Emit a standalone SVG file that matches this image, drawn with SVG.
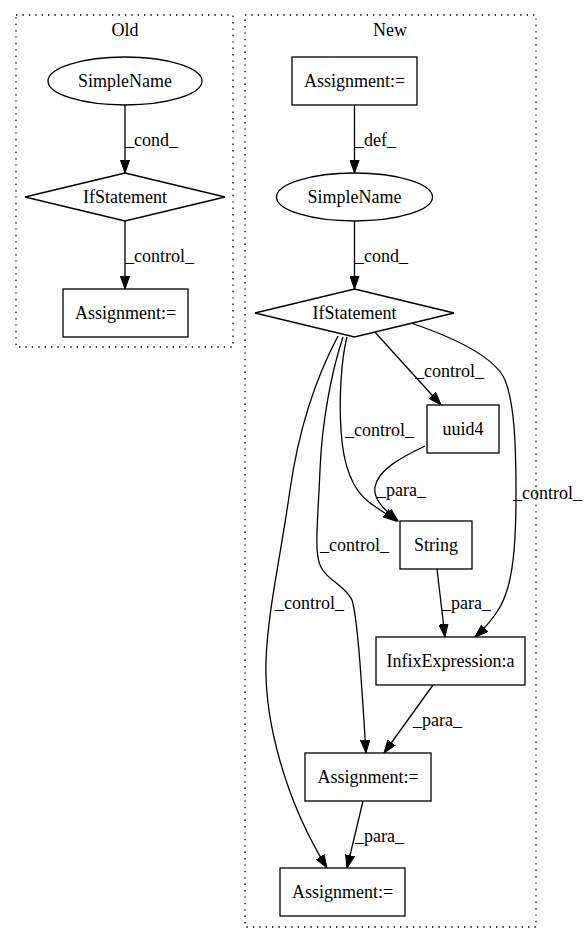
<svg xmlns="http://www.w3.org/2000/svg" width="588" height="944" viewBox="0 0 588 944">
<style>
text{font-family:"Liberation Serif","Times New Roman",serif;font-size:18px;fill:#000}
.n{text-anchor:middle}
.cl{fill:none;stroke:#000;stroke-width:1.3;stroke-dasharray:1.4,5}
.shape{fill:#fff;stroke:#000;stroke-width:1.3}
.e{fill:none;stroke:#000;stroke-width:1.3}
</style>
<defs>
<marker id="arr" markerWidth="14" markerHeight="10" refX="13" refY="5" orient="auto" markerUnits="userSpaceOnUse">
<path d="M0,0.4 L13,5 L0,9.6 z" fill="#000" stroke="#000" stroke-width="1"/>
</marker>
</defs>
<rect fill="#fff" x="0" y="0" width="588" height="944"/>
<g id="cluster_old">
<rect class="cl" x="16" y="15" width="217" height="332"/>
<text class="n" x="125" y="36">Old</text>
</g>
<g id="cluster_new">
<rect class="cl" x="245" y="15" width="291" height="912"/>
<text class="n" x="390" y="36">New</text>
</g>
<g id="edges">
<path class="e" marker-end="url(#arr)" d="M125,105 L125,173"/>
<text x="125" y="146">_cond_</text>
<path class="e" marker-end="url(#arr)" d="M125,221 L125,289"/>
<text x="125" y="262">_control_</text>
<path class="e" marker-end="url(#arr)" d="M354.5,105 L354.5,173"/>
<text x="355" y="146">_def_</text>
<path class="e" marker-end="url(#arr)" d="M354.5,221 L354.5,289"/>
<text x="355" y="262">_cond_</text>
<path class="e" marker-end="url(#arr)" d="M373,330 L441,405"/>
<text x="415" y="377">_control_</text>
<path class="e" marker-end="url(#arr)" d="M411,323 C455,338 495,357 505,380 C515,405 516,450 516,495 C516,545 513,585 500,607 C493,619 485,628 475,637"/>
<text x="513" y="499">_control_</text>
<path class="e" marker-end="url(#arr)" d="M425,446 C400,458 378,470 375,487 C373,500 385,510 398,521"/>
<text x="377" y="496">_para_</text>
<path class="e" marker-end="url(#arr)" d="M347,337 C341,360 339,400 341,430 C343,465 352,490 370,503 C380,510 388,515 396,521"/>
<text x="345" y="436">_control_</text>
<path class="e" marker-end="url(#arr)" d="M343,337 C332,370 322,420 320,470 C318,520 314,550 320,565 C326,580 345,585 352,600 C358,620 362,690 366,753"/>
<text x="320" y="551">_control_</text>
<path class="e" marker-end="url(#arr)" d="M338,336 C320,370 300,420 290,490 C280,560 268,610 266,660 C264,720 285,800 327,868"/>
<text x="275" y="609">_control_</text>
<path class="e" marker-end="url(#arr)" d="M437,569 L445,637"/>
<text x="442" y="609">_para_</text>
<path class="e" marker-end="url(#arr)" d="M433,685 L384,753"/>
<text x="413" y="726">_para_</text>
<path class="e" marker-end="url(#arr)" d="M363,801 L347,868"/>
<text x="355" y="842">_para_</text>
</g>
<g id="old_simplename">
<ellipse class="shape" cx="125" cy="81" rx="77" ry="24"/>
<text class="n" x="125" y="87">SimpleName</text>
</g>
<g id="old_ifstatement">
<polygon class="shape" points="125,173 225,197 125,221 25,197"/>
<text class="n" x="125" y="203">IfStatement</text>
</g>
<g id="old_assignment">
<rect class="shape" x="63" y="289" width="125" height="48"/>
<text class="n" x="125.5" y="319">Assignment:=</text>
</g>
<g id="new_assignment_top">
<rect class="shape" x="292" y="57" width="125" height="48"/>
<text class="n" x="354.5" y="87">Assignment:=</text>
</g>
<g id="new_simplename">
<ellipse class="shape" cx="354.5" cy="197" rx="78" ry="24"/>
<text class="n" x="354.5" y="203">SimpleName</text>
</g>
<g id="new_ifstatement">
<polygon class="shape" points="354.5,289 454,313 354.5,337 255,313"/>
<text class="n" x="354.5" y="319">IfStatement</text>
</g>
<g id="new_uuid4">
<rect class="shape" x="427" y="405" width="72" height="48"/>
<text class="n" x="463" y="435">uuid4</text>
</g>
<g id="new_string">
<rect class="shape" x="400" y="521" width="72" height="48"/>
<text class="n" x="436" y="551">String</text>
</g>
<g id="new_infix">
<rect class="shape" x="376" y="637" width="149" height="48"/>
<text class="n" x="450.5" y="667">InfixExpression:a</text>
</g>
<g id="new_assignment_mid">
<rect class="shape" x="305" y="753" width="126" height="48"/>
<text class="n" x="368" y="783">Assignment:=</text>
</g>
<g id="new_assignment_bottom">
<rect class="shape" x="280" y="868" width="125" height="48"/>
<text class="n" x="342.5" y="898">Assignment:=</text>
</g>
</svg>
